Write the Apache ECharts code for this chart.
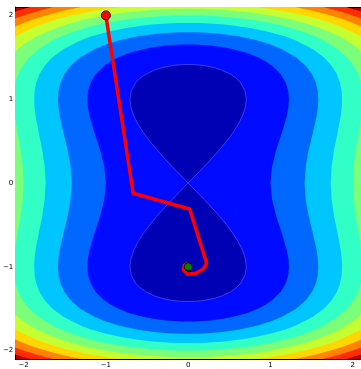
<!DOCTYPE html>
<html><head><meta charset="utf-8">
<script src="https://cdn.jsdelivr.net/npm/echarts@6/dist/echarts.min.js"></script>
<style>html,body{margin:0;padding:0;background:#fff;overflow:hidden}#c{width:361px;height:369px}</style>
</head><body><div id="c"></div>
<script>
// ---- data ----
const tickValues = [-2, -1, 0, 1, 2];
const tickLabels = ['\u22122', '\u22121', '0', '1', '2'];
const levels = [1, 3, 5, 7, 9, 11, 13, 15, 17, 19];

// right half of the upper basin (level 1), from the pinch up to its top
const lobe1 = [[0,0],[0.0997,0.1],[0.198,0.2],[0.293,0.3],[0.384,0.4],[0.468,0.5],[0.543,0.6],[0.608,0.7],[0.660,0.8],[0.694,0.9],[0.707,1.0],[0.691,1.1],[0.635,1.2],[0.585,1.25],[0.512,1.3],[0.402,1.35],[0.302,1.38],[0.256,1.39],[0.198,1.40],[0.160,1.405],[0.109,1.41],[0.079,1.412],[0.042,1.4136],[0,1.4142]];
// first-quadrant quarter of each closed level curve
const ring3 = [[1.0,0],[1.0194,0.2],[1.0711,0.4],[1.1381,0.6],[1.198,0.8],[1.2174,0.9],[1.2247,1.0],[1.2157,1.1],[1.1846,1.2],[1.1234,1.3],[1.0194,1.4],[0.9446,1.45],[0.8478,1.5],[0.7187,1.55],[0.5322,1.6],[0.425,1.62],[0.2695,1.64],[0.128,1.65],[0.071,1.652],[0,1.6529]];
const ring5 = [[1.4142,0],[1.428,0.2],[1.4653,0.4],[1.515,0.6],[1.5605,0.8],[1.5754,0.9],[1.5811,1.0],[1.5742,1.1],[1.5502,1.2],[1.504,1.3],[1.428,1.4],[1.311,1.5],[1.1328,1.6],[1.0082,1.65],[0.845,1.7],[0.6108,1.75],[0.4747,1.77],[0.386,1.78],[0.2664,1.79],[0.177,1.795],[0.085,1.798],[0,1.7989]];
const ring7 = [[1.7321,0],[1.7433,0.2],[1.774,0.4],[1.8153,0.6],[1.8534,0.8],[1.866,0.9],[1.8708,1.0],[1.8649,1.1],[1.8448,1.2],[1.8061,1.3],[1.7433,1.4],[1.6489,1.5],[1.511,1.6],[1.3092,1.7],[1.1718,1.75],[0.9956,1.8],[0.7522,1.85],[0.537,1.88],[0.438,1.89],[0.3065,1.9],[0.21,1.905],[0.118,1.908],[0,1.9094]];
const ring9 = [[2.0,0],[2.0098,0.2],[2.0365,0.4],[2.0725,0.6],[2.106,0.8],[2.1213,1.0],[2.0984,1.2],[2.0645,1.3],[2.0098,1.4],[1.9284,1.5],[1.812,1.6],[1.6474,1.7],[1.5405,1.75],[1.4111,1.8],[1.2513,1.85],[1.0459,1.9],[0.757,1.95],[0.5918,1.97],[0.3448,1.99],[0.2445,1.995],[0.155,1.998],[0,2.0]];
const ring11 = [[2.4,0],[2.294,1.3],[2.2448,1.4],[2.1723,1.5],[2.0696,1.6],[2.0041,1.65],[1.9272,1.7],[1.8366,1.75],[1.7295,1.8],[1.6018,1.85],[1.4471,1.9],[1.2542,1.95],[1.0,2.0],[0.7937,2.03],[0.6099,2.05],[0.4894,2.06],[0.3236,2.07],[0.191,2.075],[0,2.0777]];
const ring13 = [[2.4,0],[2.39,1.5],[2.2985,1.6],[2.1712,1.7],[2.0912,1.75],[1.9978,1.8],[1.8883,1.85],[1.759,1.9],[1.6041,1.95],[1.4142,2.0],[1.1713,2.05],[0.8283,2.1],[0.495,2.13],[0.305,2.14],[0,2.1461]];
const ring15 = [[2.5,0],[2.5,1.65],[2.3904,1.7],[2.318,1.75],[2.2341,1.8],[2.1368,1.85],[2.0234,1.9],[1.8902,1.95],[1.7321,2.0],[1.5401,2.05],[1.2985,2.1],[0.9688,2.15],[0.3564,2.2],[0,2.2075]];
const ring17 = [[2.6,0],[2.6,1.75],[2.4477,1.8],[2.3592,1.85],[2.257,1.9],[2.1385,1.95],[2.0,2.0],[1.8363,2.05],[1.6389,2.1],[1.3923,2.15],[1.0616,2.2],[0.498,2.25],[0,2.2634]];
const ring19 = [[2.7,0],[2.7,1.85],[2.4686,1.9],[2.3607,1.95],[2.2361,2.0],[2.1664,2.025],[2.0909,2.05],[1.9199,2.1],[1.7142,2.15],[1.4584,2.2],[1.1171,2.25],[0.5459,2.3],[0,2.3149]];

const pathPoints = [[-1.0,2.0],[-0.668,-0.123],[0.018,-0.31],[0.225,-0.957],[0.186,-1.025],[0.093,-1.076],[-0.006,-1.088],[-0.054,-1.045],[-0.048,-0.983],[-0.018,-0.965],[0.006,-0.995],[0.0,-1.0]];
const startPoint = [[-1.0, 2.0]];
const endPoint = [[0.0, -1.0]];

// ---- styles ----
const bandColors = ['#0000b4','#000bff','#0068ff','#00c5ff','#31ffc6','#7bff7b','#c6ff31','#ffd700','#ff8200','#ff2c00','#b40000'];

function ringPolygon(q) {
  const pts = q.map(p => [p[0], p[1]]);
  for (let i = q.length - 2; i >= 0; i--) pts.push([-q[i][0], q[i][1]]);
  for (let i = 1; i < q.length; i++) pts.push([-q[i][0], -q[i][1]]);
  for (let i = q.length - 2; i >= 1; i--) pts.push([q[i][0], -q[i][1]]);
  return pts;
}
function lobePolygon(h, sy) {
  const pts = h.map(p => [p[0], sy * p[1]]);
  for (let i = h.length - 2; i >= 1; i--) pts.push([-h[i][0], sy * h[i][1]]);
  return pts;
}
const rings = {3: ring3, 5: ring5, 7: ring7, 9: ring9, 11: ring11, 13: ring13, 15: ring15, 17: ring17, 19: ring19};
const shapes = [];
for (let k = levels.length - 1; k >= 1; k--) {
  shapes.push({pts: ringPolygon(rings[levels[k]]), fill: bandColors[k]});
}
shapes.push({pts: lobePolygon(lobe1, 1), fill: bandColors[0], stroke: 'rgba(110,110,255,0.75)'});
shapes.push({pts: lobePolygon(lobe1, -1), fill: bandColors[0], stroke: 'rgba(110,110,255,0.75)'});

const chart = echarts.init(document.getElementById('c'), null, {renderer: 'canvas'});
const fmt = v => { const i = tickValues.indexOf(Math.round(v)); return i >= 0 ? tickLabels[i] : ''; };
const axisCommon = {
  type: 'value', min: -2.1, max: 2.1,
  axisLine: {show: true, onZero: false, lineStyle: {color: '#000', width: 1}},
  axisTick: {show: true, inside: true, length: 4, customValues: tickValues, lineStyle: {color: '#000', width: 1}},
  splitLine: {show: false}
};
const labelStyle = {customValues: tickValues, formatter: fmt, color: '#000', fontSize: 7, fontFamily: 'DejaVu Sans'};
chart.setOption({
  animation: false,
  grid: {left: 10.6, top: 7, width: 353, height: 352, show: true, borderWidth: 0, backgroundColor: bandColors[10]},
  xAxis: [
    Object.assign({}, axisCommon, {position: 'bottom', axisLabel: Object.assign({}, labelStyle, {margin: 3})}),
    Object.assign({}, axisCommon, {position: 'top', axisLabel: {show: false}})
  ],
  yAxis: [
    Object.assign({}, axisCommon, {position: 'left', axisLabel: Object.assign({}, labelStyle, {margin: 2})}),
    Object.assign({}, axisCommon, {position: 'right', axisLabel: {show: false}})
  ],
  series: [
    {
      type: 'custom', clip: true, z: 1, silent: true,
      data: shapes.map(() => [0, 0]),
      renderItem: function (params, api) {
        const s = shapes[params.dataIndex];
        return {
          type: 'polygon',
          shape: {points: s.pts.map(p => api.coord(p))},
          style: {fill: s.fill, stroke: s.stroke || null, lineWidth: s.stroke ? 0.7 : 0}
        };
      }
    },
    {
      type: 'line', data: pathPoints, z: 3, symbol: 'none', silent: true,
      lineStyle: {color: '#ff0000', width: 3.5, join: 'round', cap: 'round'}
    },
    {
      type: 'scatter', data: startPoint, z: 4, symbolSize: 9, silent: true,
      itemStyle: {color: '#ff0000', borderColor: '#400000', borderWidth: 1, opacity: 1}
    },
    {
      type: 'scatter', data: endPoint, z: 4, symbolSize: 8, silent: true,
      itemStyle: {color: '#008000', borderColor: '#001a00', borderWidth: 1, opacity: 1}
    }
  ]
});
</script></body></html>
